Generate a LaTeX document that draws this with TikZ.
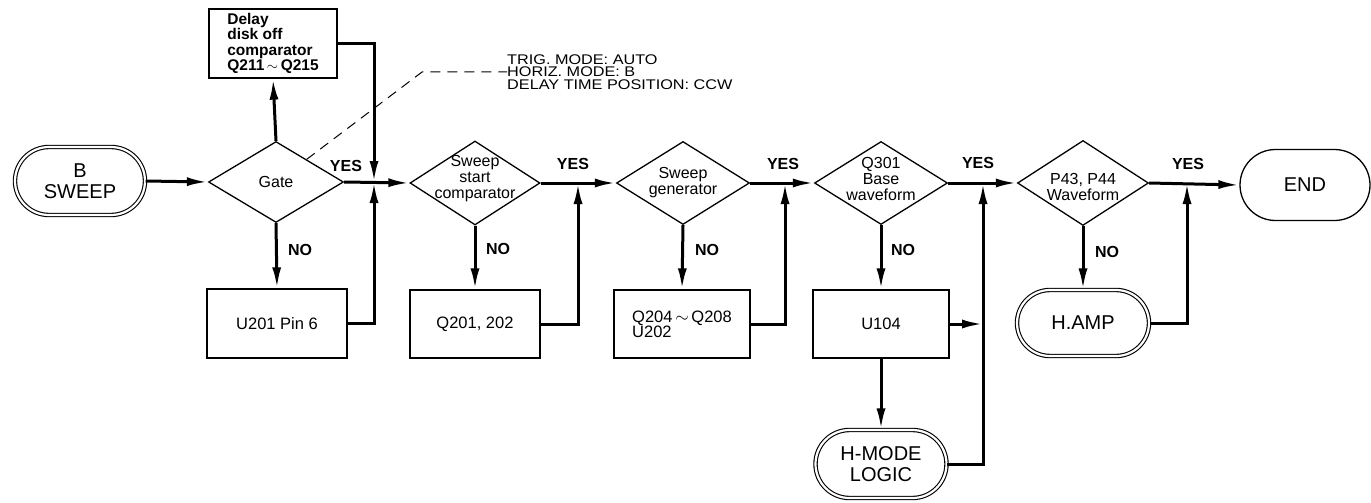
\documentclass[tikz,border=0pt]{standalone}
\usepackage{fontspec}
\setmainfont{Liberation Sans}
\newfontfamily\notefont[FakeStretch=1.16]{Liberation Sans}
\usetikzlibrary{shapes.geometric,shapes.misc,arrows.meta,calc}
\begin{document}
\begin{tikzpicture}[x=1pt,y=-1pt,
  shp/.style={draw, line width=1.3pt, inner sep=0pt},
  box/.style={shp, rectangle, font=\fontsize{16.5}{15}\selectfont, align=left},
  dbox/.style={box, font=\bfseries\fontsize{15.5}{15.5}\selectfont},
  dia/.style={shp, diamond},
  ditext/.style={font=\fontsize{16}{16}\selectfont, align=center},
  term/.style={shp, rounded rectangle, font=\fontsize{20}{21}\selectfont, align=center},
  dterm/.style={term, double, double distance=2.2pt, line width=1.1pt},
  flow/.style={line width=3pt, -{Latex[length=21pt,width=9pt]}},
  lbl/.style={font=\bfseries\fontsize{16}{16}\selectfont},
  note/.style={font=\notefont\fontsize{14}{12.5}\selectfont, align=left, inner sep=0pt},
  leader/.style={line width=1pt, dash pattern=on 10pt off 7pt}
]
\useasboundingbox (0,0) rectangle (1371,503);

% terminals
\node[dterm, minimum width=130pt, minimum height=68pt] (bsweep) at (80,181) {B\\SWEEP};
\node[term, minimum width=130pt, minimum height=71pt] (end) at (1305,185) {END};
\node[dterm, minimum width=132pt, minimum height=66pt] (hamp) at (1083,323) {H.AMP};
\node[dterm, minimum width=131pt, minimum height=68pt] (hmode) at (881,464) {H-MODE\\LOGIC};

% decisions
\node[dia, minimum width=135pt, minimum height=81pt] (gate) at (276,182) {};
\node[ditext] at (gate) {Gate};
\node[dia, minimum width=130pt, minimum height=84pt] (ssc) at (475,183) {};
\node[ditext] at ([yshift=4pt]ssc.center) {Sweep\\start\\comparator};
\node[dia, minimum width=133pt, minimum height=83pt] (sg) at (683,183) {};
\node[ditext] at (sg.center) {Sweep\\generator};
\node[dia, minimum width=133pt, minimum height=83pt] (q301) at (881,183) {};
\node[ditext] at ([yshift=4pt]q301.center) {Q301\\Base\\waveform};
\node[dia, minimum width=131pt, minimum height=85pt] (p43) at (1083,183) {};
\node[ditext] at ([yshift=-4pt]p43.center) {P43, P44\\Waveform};

% boxes
\node[dbox, minimum width=128pt, minimum height=69pt] (delay) at (273,43.5) {Delay\\disk off\\comparator\\Q211\,${\sim}$\,Q215};
\node[box, minimum width=140pt, minimum height=69pt] (u201) at (277,323.5) {U201 Pin 6};
\node[box, minimum width=130pt, minimum height=68pt] (q201) at (475,324) {Q201, 202};
\node[box, minimum width=136pt, minimum height=68pt] (q204) at (682,324) {Q204\,${\sim}$\,Q208\\U202};
\node[box, minimum width=136pt, minimum height=68pt] (u104) at (881,324) {U104};

% junctions
\coordinate (j1) at (374,182);
\coordinate (j2) at (578,183);
\coordinate (j3) at (785,183);
\coordinate (j4) at (983,183);
\coordinate (j5) at (1187,183);

% flow
\draw[flow] (bsweep.east) -- (gate.west);
\draw[flow] (gate.north) -- (delay.south);
\draw[flow] (delay.east) -| (j1);
\draw[flow] (gate.south) -- (u201.north);
\draw[flow] (u201.east) -| (j1);
\draw[flow] (gate.east) -- (ssc.west);
\draw[flow] (ssc.south) -- (q201.north);
\draw[flow] (q201.east) -| (j2);
\draw[flow] (ssc.east) -- (sg.west);
\draw[flow] (sg.south) -- (q204.north);
\draw[flow] (q204.east) -| (j3);
\draw[flow] (sg.east) -- (q301.west);
\draw[flow] (q301.south) -- (u104.north);
\draw[flow] (u104.east) -- (u104.east -| j4);
\draw[flow] (u104.south) -- (hmode.north);
\draw[flow] (hmode.east) -| (j4);
\draw[flow] (q301.east) -- (p43.west);
\draw[flow] (p43.south) -- (hamp.north);
\draw[flow] (hamp.east) -| (j5);
\draw[flow] (p43.east) -- (end.west);

% labels
\node[lbl] (y1) at (346,166) {YES};
\node[lbl] (y2) at (573,164) {YES};
\node[lbl] (y3) at (783,164) {YES};
\node[lbl] (y4) at (978,163) {YES};
\node[lbl] (y5) at (1188,164) {YES};
\node[lbl] (n1) at (300,250) {NO};
\node[lbl] (n2) at (498,249) {NO};
\node[lbl] (n3) at (707,250) {NO};
\node[lbl] (n4) at (903,250) {NO};
\node[lbl] (n5) at (1107,252) {NO};

% note
\node[note, anchor=west] (cond) at (507,72) {TRIG. MODE: AUTO\\HORIZ. MODE: B\\DELAY TIME POSITION: CCW};
\coordinate (g1) at ($(gate.north)!0.45!(gate.east)$);
\coordinate (k1) at (422,72);
\draw[leader] (g1) -- (k1) -- (cond.west);
\end{tikzpicture}
\end{document}
